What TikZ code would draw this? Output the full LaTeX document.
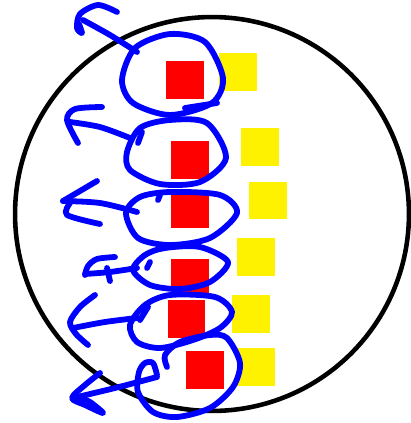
\documentclass[tikz,border=0pt]{standalone}
\usepackage{tikz}
\usetikzlibrary{positioning}

\begin{document}
\begin{tikzpicture}[
  x=0.02cm, y=-0.02cm,
  rim/.style={draw=black, line width=2.6pt},
  sq/.style={rectangle, inner sep=0pt, minimum size=0.76cm},
  redsq/.style={sq, fill=red},
  yellowsq/.style={sq, fill=yellow},
  ink/.style={draw=blue, line width=3.3pt, line cap=round, line join=round}
]
\useasboundingbox (0,0) rectangle (410,423);

\draw[rim] (212,214) circle[radius=3.94cm];

\node[redsq] (r1) at (185,80)    {};
\node[redsq] (r2) at (190,160)   {};
\node[redsq] (r3) at (190,209)   {};
\node[redsq] (r4) at (190,278)   {};
\node[redsq] (r5) at (186.5,318.5) {};
\node[redsq] (r6) at (205,370)   {};

\node[yellowsq] (y1) at (238,72)    {};
\node[yellowsq] (y2) at (260,147)   {};
\node[yellowsq] (y3) at (268,200.5) {};
\node[yellowsq] (y4) at (256,257)   {};
\node[yellowsq] (y5) at (251,314)   {};
\node[yellowsq] (y6) at (256,367)   {};

% loop 1
\draw[ink] plot[smooth cycle] coordinates {(122,80) (135,48) (170,34) (205,42) (223,78) (212,103) (170,115) (133,103)};
\draw[ink] (185,108) -- (217,103);
\draw[ink] plot[smooth] coordinates {(137,52) (110,35) (83,20)};
\draw[ink] plot[smooth] coordinates {(117,12) (98,5) (80,14) (77,28) (82,33) (79,24)};

% loop 2
\draw[ink] plot[smooth cycle] coordinates {(127,152) (140,128) (170,120) (207,123) (226,158) (200,182) (160,184) (130,170)};
\draw[ink] (142,132) -- (138,143);
\draw[ink] plot[smooth] coordinates {(130,138) (100,127) (70,122)};
\draw[ink] plot[smooth] coordinates {(102,107) (75,109) (67,120) (78,143)};

% loop 3
\draw[ink] plot[smooth cycle] coordinates {(126,213) (140,197) (170,192) (220,195) (237,213) (210,238) (170,245) (138,238)};
\draw[ink] (160,195) -- (158,200);
\draw[ink] plot[smooth] coordinates {(137,212) (100,203) (63,201)};
\draw[ink] (97,181) -- (63,201);
\draw[ink] plot[smooth] coordinates {(70,203) (67,215) (100,224)};

% loop 4
\draw[ink] plot[smooth cycle] coordinates {(133,270) (145,255) (165,248) (200,247) (228,262) (210,282) (180,289) (150,285)};
\draw[ink] (150,262) -- (147,268);
\draw[ink] plot[smooth] coordinates {(137,268) (110,272) (85,274)};
\draw[ink] plot[smooth] coordinates {(115,257) (97,259) (88,266) (85,275)};
\draw[ink] (107,268) -- (110,281);

% loop 5
\draw[ink] plot[smooth cycle] coordinates {(130,325) (145,305) (170,295) (215,297) (232,312) (220,328) (193,340) (160,348) (137,342)};
\draw[ink] (148,307) -- (140,320);
\draw[ink] plot[smooth] coordinates {(137,318) (105,322) (73,328)};
\draw[ink] plot[smooth] coordinates {(95,295) (80,307) (70,322) (76,334) (88,345)};

% loop 6
\draw[ink] plot[smooth] coordinates {(157,375) (153,363) (145,363) (139,372) (138,392) (153,412) (177,417) (210,408) (233,387) (240,363) (227,338) (210,335) (180,342) (165,355) (167,367)};
\draw[ink] plot[smooth] coordinates {(157,377) (115,388) (73,398)};
\draw[ink] plot[smooth] coordinates {(100,373) (85,385) (72,398) (85,405) (103,413) (90,402) (80,398)};
\end{tikzpicture}
\end{document}
